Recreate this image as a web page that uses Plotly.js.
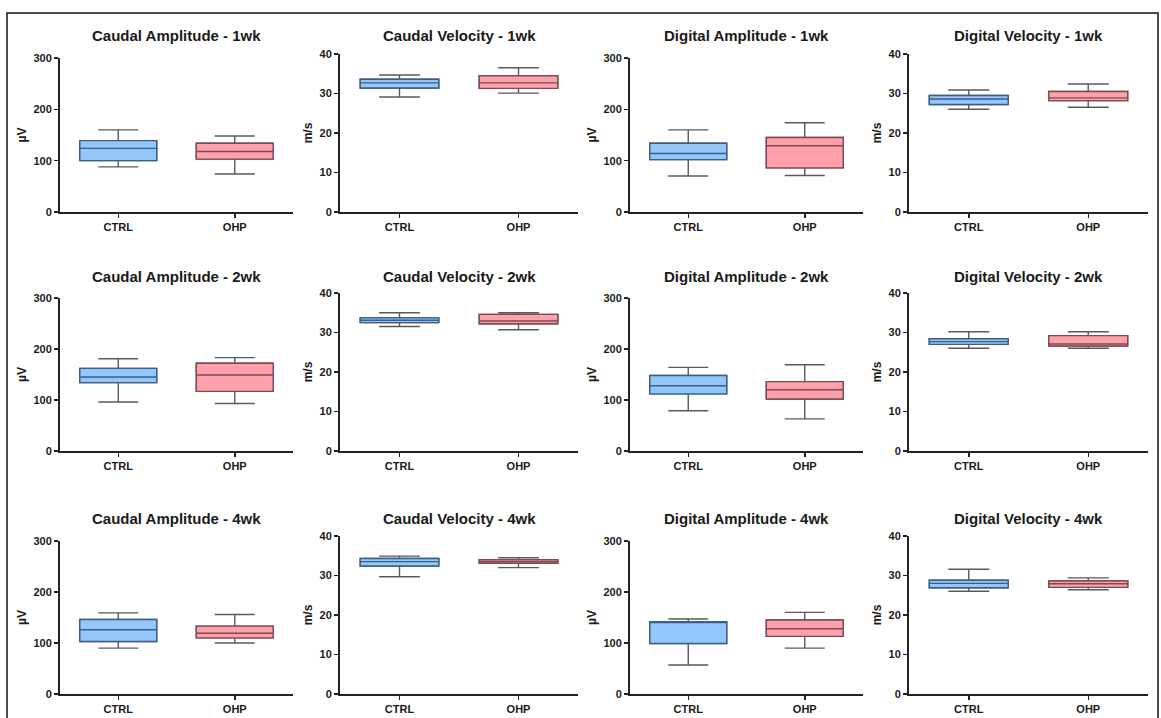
<!DOCTYPE html>
<html>
<head>
<meta charset="utf-8">
<script src="https://cdn.plot.ly/plotly-3.0.1.min.js"></script>
<style>
  html, body { margin: 0; padding: 0; background: #fff; }
  #chart { width: 1161px; height: 718px; }
</style>
</head>
<body>
<div id="chart"></div>
<script>
// Nerve conduction summaries: one panel per measure and time point (row-major)
const panelTitles = [
  'Caudal Amplitude - 1wk', 'Caudal Velocity - 1wk', 'Digital Amplitude - 1wk', 'Digital Velocity - 1wk',
  'Caudal Amplitude - 2wk', 'Caudal Velocity - 2wk', 'Digital Amplitude - 2wk', 'Digital Velocity - 2wk',
  'Caudal Amplitude - 4wk', 'Caudal Velocity - 4wk', 'Digital Amplitude - 4wk', 'Digital Velocity - 4wk'
];
const panelUnits = ['µV', 'm/s', 'µV', 'm/s', 'µV', 'm/s', 'µV', 'm/s', 'µV', 'm/s', 'µV', 'm/s'];
const groups = ['CTRL', 'OHP'];

// Amplitude axes run 0–300 µV, velocity axes 0–40 m/s
const ampTicks = [0, 100, 200, 300];
const velTicks = [0, 10, 20, 30, 40];

// Box-and-whisker statistics: min, Q1, median, Q3, max
const ctrlLow  = [88, 29.1, 70, 26.0, 96, 31.5, 79, 26.0, 90, 29.7, 57, 26.0];
const ctrlQ1   = [100, 31.4, 102, 27.2, 134, 32.5, 112, 27.0, 103, 32.4, 99, 26.9];
const ctrlMed  = [124, 32.7, 114, 28.6, 145, 33.1, 128, 27.7, 126, 33.5, 140, 28.0];
const ctrlQ3   = [139, 33.6, 134, 29.5, 162, 33.7, 148, 28.4, 146, 34.3, 142, 28.8];
const ctrlHigh = [160, 34.7, 160, 30.9, 181, 35.0, 164, 30.2, 159, 34.9, 147, 31.6];

const ohpLow  = [74, 30.1, 71, 26.5, 93, 30.7, 63, 26.0, 100, 32.0, 90, 26.4];
const ohpQ1   = [103, 31.3, 86, 28.2, 117, 32.2, 102, 26.6, 110, 33.1, 113, 27.0];
const ohpMed  = [118, 32.7, 129, 28.9, 149, 32.9, 120, 27.1, 119, 33.5, 128, 27.9];
const ohpQ3   = [134, 34.5, 145, 30.5, 172, 34.6, 136, 29.2, 133, 34.0, 145, 28.6];
const ohpHigh = [148, 36.5, 174, 32.4, 183, 35.0, 169, 30.2, 156, 34.5, 160, 29.4];

const W = 1161, H = 718;
const FONT = 'Liberation Sans, Arial, Helvetica, sans-serif';

// Panel placement in pixels
const colLeft  = [60, 340, 630, 909];
const colRight = [293, 578, 863, 1148];
const rowTopAmp = [58, 298, 541];
const rowTopVel = [54, 293, 536];
const rowBottom = [212, 451, 694];
const titleY = [35, 276, 518];

const styles = {
  CTRL: { fill: '#93c6fb', line: '#3e5f85' },
  OHP:  { fill: '#ffa1aa', line: '#7f4a52' }
};
const whiskerColor = '#5a5a5a';

const traces = [];
const layout = {
  width: W, height: H,
  margin: { l: 0, r: 0, t: 0, b: 0 },
  paper_bgcolor: '#ffffff',
  plot_bgcolor: 'rgba(0,0,0,0)',
  showlegend: false,
  font: { family: FONT, color: '#1a1a1a' },
  annotations: [],
  shapes: [{
    type: 'rect', xref: 'paper', yref: 'paper',
    x0: 7 / W, x1: 1158 / W, y0: -0.05, y1: 1 - 13 / H,
    line: { color: '#111', width: 1.5 }, fillcolor: 'rgba(0,0,0,0)'
  }]
};

for (let i = 0; i < panelTitles.length; i++) {
  const row = Math.floor(i / 4), col = i % 4;
  const isAmp = panelUnits[i] === 'µV';
  const n = i + 1;
  const xa = 'x' + (n === 1 ? '' : n), ya = 'y' + (n === 1 ? '' : n);
  const xKey = 'xaxis' + (n === 1 ? '' : n), yKey = 'yaxis' + (n === 1 ? '' : n);
  const top = isAmp ? rowTopAmp[row] : rowTopVel[row];

  const stats = {
    CTRL: [ctrlLow[i], ctrlQ1[i], ctrlMed[i], ctrlQ3[i], ctrlHigh[i]],
    OHP:  [ohpLow[i], ohpQ1[i], ohpMed[i], ohpQ3[i], ohpHigh[i]]
  };
  groups.forEach(g => {
    const s = stats[g];
    // whiskers and caps in grey
    traces.push({
      type: 'box', x: [g], xaxis: xa, yaxis: ya,
      lowerfence: [s[0]], q1: [s[1]], median: [s[2]], q3: [s[3]], upperfence: [s[4]],
      fillcolor: styles[g].fill,
      line: { color: whiskerColor, width: 1.4 },
      width: 0.66, whiskerwidth: 0.52,
      hoverinfo: 'skip'
    });
    // box body with a coloured outline drawn over it
    traces.push({
      type: 'box', x: [g], xaxis: xa, yaxis: ya,
      lowerfence: [s[1]], q1: [s[1]], median: [s[2]], q3: [s[3]], upperfence: [s[3]],
      fillcolor: styles[g].fill,
      line: { color: styles[g].line, width: 1.4 },
      width: 0.66, whiskerwidth: 0,
      hoverinfo: 'skip'
    });
  });

  layout[xKey] = {
    domain: [colLeft[col] / W, colRight[col] / W],
    anchor: ya,
    type: 'category', categoryorder: 'array', categoryarray: groups,
    range: [-0.5, 1.5],
    showline: true, linecolor: '#222', linewidth: 2,
    ticks: 'outside', ticklen: 4, tickwidth: 1.5, tickcolor: '#222',
    showgrid: false, zeroline: false, fixedrange: true,
    tickfont: { family: FONT, size: 11, weight: 700, color: '#1a1a1a' }
  };
  layout[yKey] = {
    domain: [1 - rowBottom[row] / H, 1 - top / H],
    anchor: xa,
    range: isAmp ? [0, 300] : [0, 40],
    tickvals: isAmp ? ampTicks : velTicks,
    showline: true, linecolor: '#222', linewidth: 2,
    ticks: 'outside', ticklen: 4, tickwidth: 1.5, tickcolor: '#222',
    showgrid: false, zeroline: false, fixedrange: true,
    tickfont: { family: FONT, size: 11, weight: 700, color: '#1a1a1a' },
    title: { text: panelUnits[i], standoff: 4, font: { family: FONT, size: 12, weight: 700, color: '#1a1a1a' } }
  };
  layout.annotations.push({
    xref: 'paper', yref: 'paper',
    x: (colLeft[col] + colRight[col]) / 2 / W, y: 1 - titleY[row] / H,
    xanchor: 'center', yanchor: 'middle', showarrow: false,
    text: panelTitles[i],
    font: { family: FONT, size: 15, weight: 700, color: '#1a1a1a' }
  });
}

Plotly.newPlot('chart', traces, layout, { displayModeBar: false, staticPlot: true });
</script>
</body>
</html>
